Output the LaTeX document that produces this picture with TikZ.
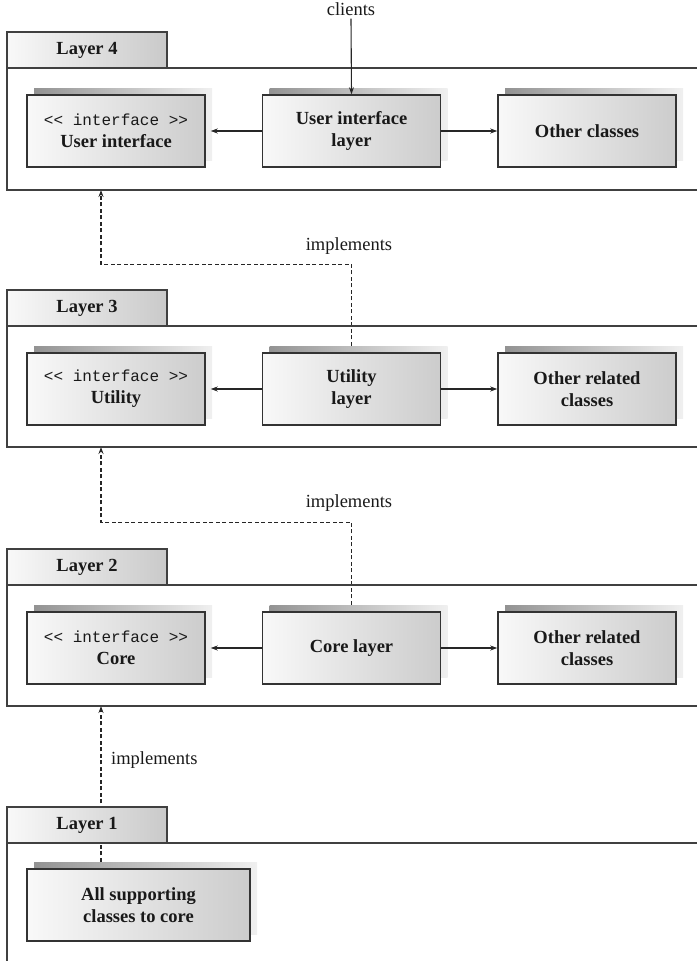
\documentclass[tikz,border=0pt]{standalone}
\usepackage{fontspec}
\setmainfont{Liberation Serif}
\setmonofont{Liberation Mono}
\usetikzlibrary{arrows.meta,shadows,backgrounds}
\newcommand{\ifacetag}{{\ttfamily\mdseries\fontsize{16}{22}\selectfont <{}< interface >{}>}}

\begin{document}
\begin{tikzpicture}[x=1pt,y=-1pt,
	frame/.style={draw=black!75, line width=1.3pt},
	tab/.style={draw=black!75, line width=1.3pt, left color=gray!5, right color=gray!42, minimum width=160pt, minimum height=36pt, inner sep=0pt, font=\fontsize{18.5}{22}\selectfont\bfseries, text=black!90},
	cls/.style={draw=black!80, line width=1.5pt, left color=gray!5, right color=gray!40, minimum width=178pt, minimum height=72pt, inner sep=0pt, align=center, font=\fontsize{18.5}{22}\selectfont\bfseries, text=black!90, general shadow={shadow xshift=7pt, shadow yshift=7pt, left color=gray!85, right color=gray!12, draw=none}},
	arr/.style={-{Stealth[length=7pt,width=5pt]}, line width=1.1pt, black!85},
	impl/.style={arr, dash pattern=on 4pt off 2.5pt},
	lbl/.style={font=\fontsize{18.5}{22}\selectfont, text=black!90, inner sep=0pt}]
	\useasboundingbox (0,0) rectangle (696,961);
	% layer 4
	\draw[frame] (700,68) -| (7,190) -- (700,190);
	\node[tab] (tab4) at (87,50) {Layer 4};
	\node[cls] (uiface) at (116,131) {\ifacetag\\User interface};
	\node[cls] (uilayer) at (351.5,131) {User interface\\layer};
	\node[cls] (uiother) at (587,131) {Other classes};
	\node[lbl] (clients) at (351,9) {clients};
	% layer 3
	\draw[frame] (700,326) -| (7,447) -- (700,447);
	\node[tab] (tab3) at (87,308) {Layer 3};
	\node[cls] (utiface) at (116,389) {\ifacetag\\Utility};
	\node[cls] (utlayer) at (351.5,389) {Utility\\layer};
	\node[cls] (utother) at (587,389) {Other related\\classes};
	\node[lbl] (impl3) at (349,246) {implements};
	% layer 2
	\draw[frame] (700,585) -| (7,706) -- (700,706);
	\node[tab] (tab2) at (87,567) {Layer 2};
	\node[cls] (coreiface) at (116,648) {\ifacetag\\Core};
	\node[cls] (corelayer) at (351.5,648) {Core layer};
	\node[cls] (coreother) at (587,648) {Other related\\classes};
	\node[lbl] (impl2) at (349,503) {implements};
	% layer 1
	\draw[frame] (700,843) -| (7,975);
	\node[tab] (tab1) at (87,825) {Layer 1};
	\node[cls, minimum width=223pt] (support) at (138.5,905) {All supporting\\classes to core};
	\node[lbl, anchor=west] (impl1) at (111,760) {implements};
	% frame bottoms
	\coordinate (f4b) at (101,190);
	\coordinate (f3b) at (101,447);
	\coordinate (f2b) at (101,706);
	\begin{pgfonlayer}{background}
		\draw[impl] (utlayer.north) -- ++(0,-88) -| (f4b);
		\draw[impl] (corelayer.north) -- ++(0,-89) -| (f3b);
		\draw[impl] (f2b |- support.north) -- (f2b);
	\end{pgfonlayer}
	\draw[arr] ([yshift=-3pt]clients.south) -- (uilayer.north);
	\draw[arr] (uilayer.west) -- ([xshift=5pt]uiface.east);
	\draw[arr] (uilayer) -- (uiother);
	\draw[arr] (utlayer.west) -- ([xshift=5pt]utiface.east);
	\draw[arr] (utlayer) -- (utother);
	\draw[arr] (corelayer.west) -- ([xshift=5pt]coreiface.east);
	\draw[arr] (corelayer) -- (coreother);
\end{tikzpicture}
\end{document}
